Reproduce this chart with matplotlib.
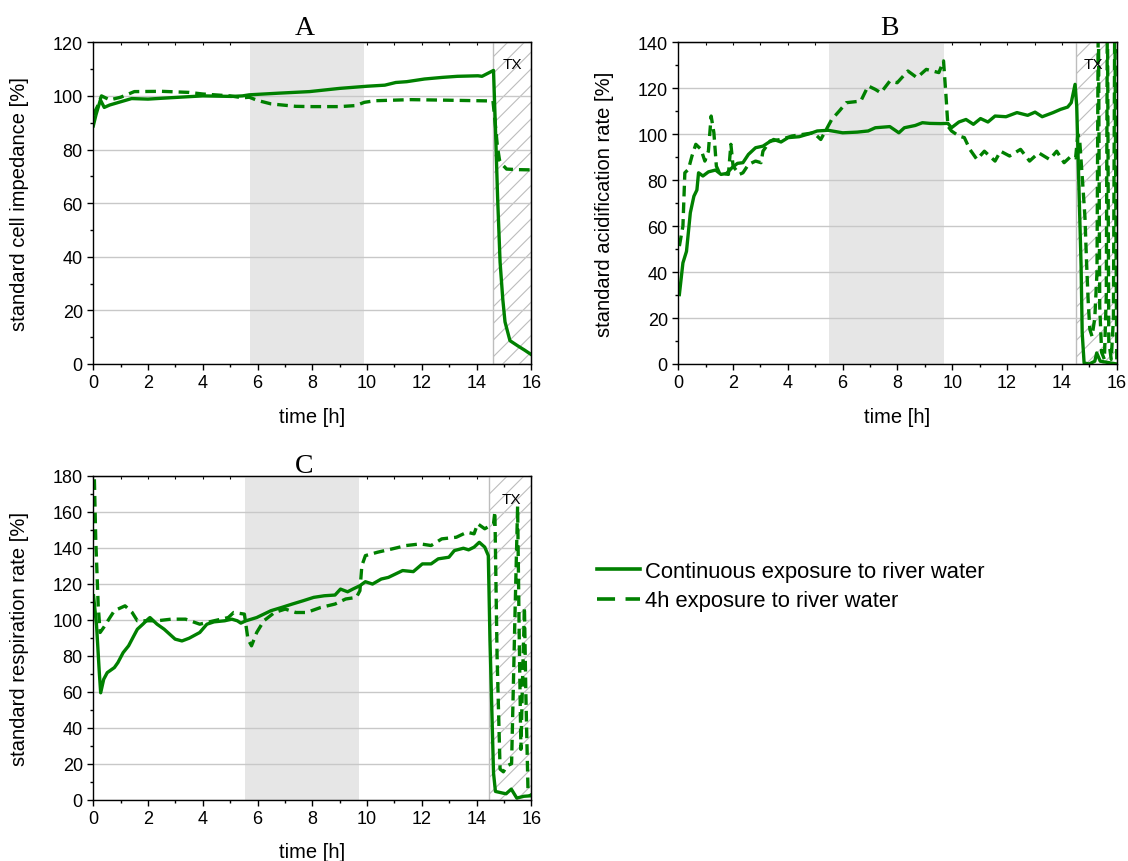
import matplotlib
matplotlib.use("Agg")
import matplotlib.pyplot as plt
from matplotlib.ticker import MultipleLocator, NullFormatter
from matplotlib.lines import Line2D

plt.rcParams['font.family'] = ['Liberation Sans', 'DejaVu Sans']
plt.rcParams['hatch.linewidth'] = 0.8

# ---------------- data ----------------
# Panel A: standard cell impedance
a_cont_t = [0.0, 0.1, 0.26, 0.4, 0.6, 1.0, 1.4, 2.0, 2.8, 4.0, 5.05, 5.45, 5.7, 6.75, 7.9, 9.0, 10.0,
            10.65, 11.05, 11.45, 12.1, 12.75, 13.3, 14.05, 14.2, 14.62, 14.7, 14.77, 14.86, 14.96, 15.04,
            15.22, 15.5, 15.75, 16.0]
a_cont_y = [88.8, 93.0, 98.5, 95.7, 96.6, 97.8, 99.0, 98.8, 99.3, 100.0, 99.8, 100.0, 100.4, 101.0, 101.6,
            102.8, 103.6, 104.0, 105.0, 105.3, 106.3, 106.9, 107.3, 107.5, 107.3, 109.5, 85.0, 62.0, 38.0,
            24.0, 15.7, 8.7, 6.8, 5.2, 3.5]
a_4h_t = [0.0, 0.15, 0.3, 0.6, 1.0, 1.5, 2.5, 3.5, 4.0, 5.0, 5.45, 5.7, 6.0, 6.5, 7.4, 8.0, 9.0, 9.6, 9.9,
          10.3, 11.6, 12.9, 14.6, 14.68, 14.76, 14.84, 14.92, 15.1, 15.5, 16.0]
a_4h_y = [93.0, 96.0, 100.0, 98.5, 99.5, 101.6, 101.7, 101.3, 100.7, 100.0, 99.3, 99.5, 98.3, 97.0, 96.1,
          96.0, 96.0, 96.4, 97.6, 98.2, 98.6, 98.4, 98.1, 90.0, 81.4, 76.0, 74.6, 72.7, 72.5, 72.4]

# Panel B: standard acidification rate
b_cont_t = [0.04, 0.17, 0.3, 0.44, 0.57, 0.68, 0.74, 0.9, 1.1, 1.36, 1.56, 1.76, 1.96, 2.16, 2.36, 2.56,
            2.82, 3.09, 3.28, 3.48, 3.75, 4.01, 4.41, 4.81, 5.07, 5.47, 6.0, 6.53, 6.93, 7.19, 7.72, 8.05,
            8.25, 8.65, 8.91, 9.18, 9.58, 9.84, 9.97, 10.24, 10.5, 10.77, 11.03, 11.3, 11.56, 11.96, 12.36,
            12.75, 13.02, 13.28, 13.68, 13.95, 14.21, 14.34, 14.48, 14.54, 14.6, 14.7, 14.74, 14.81, 15.0,
            15.2, 15.27, 15.4, 16.0]
b_cont_y = [30.2, 44.0, 49.0, 65.8, 73.0, 75.7, 83.2, 81.8, 83.6, 84.4, 82.5, 82.9, 85.4, 87.3, 87.6, 91.2,
            94.1, 94.8, 96.3, 97.7, 96.6, 98.5, 98.9, 100.3, 101.4, 101.7, 100.6, 100.9, 101.4, 102.8, 103.3,
            100.6, 102.8, 103.8, 105.0, 104.7, 104.6, 104.7, 102.8, 105.3, 106.4, 104.3, 106.8, 105.3, 107.9,
            107.6, 109.4, 108.2, 109.6, 107.6, 109.4, 110.8, 111.8, 113.7, 121.7, 112.3, 86.1, 42.6, 13.5,
            0.4, 0.0, 1.2, 4.8, 1.2, 0.0]
b_4h_t = [0.04, 0.17, 0.24, 0.37, 0.5, 0.64, 0.83, 0.97, 1.1, 1.2, 1.3, 1.39, 1.5, 1.83, 1.92, 2.0, 2.23,
          2.36, 2.56, 2.82, 3.02, 3.09, 3.35, 3.75, 4.15, 4.54, 4.94, 5.2, 5.4, 5.6, 5.87, 6.13, 6.66, 6.93,
          7.19, 7.39, 7.72, 7.99, 8.38, 8.71, 9.05, 9.51, 9.68, 9.77, 9.84, 9.97, 10.24, 10.44, 10.64, 10.9,
          11.17, 11.56, 11.76, 12.09, 12.49, 12.82, 13.15, 13.55, 13.81, 14.08, 14.34, 14.5, 14.58, 14.65,
          14.75, 14.84, 14.9, 14.96, 15.02, 15.1, 15.2, 15.28, 15.33, 15.38, 15.45, 15.55, 15.62, 15.66,
          15.71, 15.8, 15.88, 15.93, 15.97, 16.0]
b_4h_y = [51.3, 60.0, 83.2, 84.7, 90.5, 95.6, 93.4, 88.3, 92.6, 107.9, 100.6, 86.1, 83.2, 82.5, 95.6, 86.1,
          82.5, 83.2, 86.8, 88.3, 87.6, 92.6, 97.0, 97.7, 99.2, 99.9, 100.6, 97.7, 102.0, 106.4, 110.0, 113.7,
          114.4, 121.0, 119.5, 118.0, 123.1, 122.4, 127.5, 124.6, 128.2, 126.8, 131.9, 116.6, 103.5, 101.4,
          99.2, 98.5, 93.4, 89.0, 92.6, 88.3, 92.6, 90.5, 93.4, 88.3, 91.9, 89.0, 92.6, 87.6, 90.5, 89.7,
          100.0, 97.0, 80.0, 64.0, 44.0, 27.0, 15.0, 12.0, 20.0, 40.0, 160.0, 25.0, 5.0, 2.0, 30.0, 160.0,
          10.0, 2.0, 20.0, 160.0, 60.0, 2.0]

# Panel C: standard respiration rate
c_cont_t = [0.01, 0.12, 0.22, 0.27, 0.38, 0.51, 0.77, 0.9, 1.09, 1.29, 1.48, 1.61, 1.81, 2.0, 2.07, 2.33,
            2.59, 2.99, 3.24, 3.5, 3.89, 4.15, 4.41, 4.8, 5.06, 5.26, 5.39, 5.58, 5.97, 6.23, 6.49, 6.88,
            7.27, 7.66, 8.05, 8.44, 8.83, 9.03, 9.29, 9.48, 9.74, 9.94, 10.2, 10.52, 10.78, 11.04, 11.3,
            11.69, 12.02, 12.34, 12.6, 12.99, 13.19, 13.52, 13.71, 13.91, 14.1, 14.3, 14.43, 14.49, 14.62,
            14.69, 14.95, 15.08, 15.27, 15.47, 15.73, 16.0]
c_cont_y = [113.3, 96.6, 70.6, 59.4, 66.9, 70.6, 73.4, 76.2, 81.7, 85.5, 91.0, 94.7, 97.5, 100.3, 101.2,
            97.5, 94.7, 89.2, 88.2, 89.7, 92.9, 97.5, 98.8, 99.4, 100.3, 99.4, 98.1, 99.4, 101.2, 103.1,
            105.0, 106.8, 108.7, 110.5, 112.4, 113.3, 113.7, 117.0, 115.5, 117.0, 118.9, 121.1, 119.8, 122.6,
            123.5, 125.4, 127.3, 126.7, 131.0, 131.0, 133.8, 134.7, 138.4, 139.7, 138.8, 140.3, 143.0, 140.3,
            135.6, 89.2, 14.9, 4.6, 3.7, 3.3, 5.9, 0.9, 1.9, 2.2]
c_4h_t = [0.04, 0.09, 0.18, 0.25, 0.38, 0.57, 0.77, 1.16, 1.42, 1.61, 1.81, 2.33, 2.85, 3.37, 3.89, 4.41,
          4.93, 5.13, 5.52, 5.65, 5.78, 5.97, 6.23, 6.62, 7.01, 7.4, 7.79, 8.31, 8.83, 9.22, 9.61, 9.74,
          9.81, 9.94, 10.39, 10.91, 11.43, 11.95, 12.34, 12.73, 13.26, 13.65, 13.91, 14.04, 14.3, 14.62,
          14.67, 14.75, 14.86, 14.98, 15.12, 15.28, 15.4, 15.5, 15.56, 15.62, 15.67, 15.75, 15.8, 15.88, 16.0]
c_4h_y = [178.0, 144.5, 107.7, 92.9, 95.7, 100.3, 105.0, 107.7, 104.0, 99.4, 99.4, 99.4, 100.3, 100.3, 97.5,
          99.4, 101.2, 104.0, 103.1, 89.2, 85.5, 92.9, 99.4, 104.0, 105.9, 104.0, 104.0, 106.8, 108.7, 111.5,
          112.4, 116.1, 130.0, 135.6, 137.5, 139.3, 141.2, 142.1, 141.2, 144.9, 145.8, 148.6, 147.7, 153.3,
          150.5, 153.3, 160.0, 80.0, 17.0, 15.5, 18.9, 20.0, 100.0, 163.0, 90.0, 28.0, 60.0, 107.0, 60.0,
          5.0, 2.0]

# exposure periods (grey) and Triton X (hatched) periods, in hours
exposure_spans = [(5.72, 9.90), (5.51, 9.70), (5.54, 9.71)]
tx_start = [14.61, 14.51, 14.46]

panel_titles = ['A', 'B', 'C']
y_labels = ['standard cell impedance [%]', 'standard acidification rate [%]',
            'standard respiration rate [%]']
y_max = [120, 140, 180]
tx_label_pos = [(15.3, 112), (15.16, 130.6), (15.26, 167)]
legend_labels = ['Continuous exposure to river water', '4h exposure to river water']

# ---------------- figure ----------------
GREEN = '#008000'
fig = plt.figure(figsize=(11.28, 8.62), dpi=100)
positions = [
    [0.0827, 0.5766, 0.3883, 0.3732],
    [0.6013, 0.5766, 0.3887, 0.3732],
    [0.0827, 0.0711, 0.3883, 0.3759],
]
title_pads = [6.0, 6.0, 2.5]
series = [
    (a_cont_t, a_cont_y, a_4h_t, a_4h_y),
    (b_cont_t, b_cont_y, b_4h_t, b_4h_y),
    (c_cont_t, c_cont_y, c_4h_t, c_4h_y),
]

for i in range(3):
    ax = fig.add_axes(positions[i])
    ct, cy, dt, dy = series[i]
    ax.axvspan(exposure_spans[i][0], exposure_spans[i][1], facecolor='#e6e6e6', edgecolor='none', zorder=0.2)
    ax.axvspan(tx_start[i], 16, facecolor='white', edgecolor='#bdbdbd', hatch='//', linewidth=1.0, zorder=0.3)
    ax.plot(ct, cy, color=GREEN, lw=2.4, solid_joinstyle='round', zorder=3)
    ax.plot(dt, dy, color=GREEN, lw=2.4, linestyle=(0, (3.2, 1.8)), zorder=3)

    ax.set_xlim(0, 16)
    ax.set_ylim(0, y_max[i])
    ax.xaxis.set_major_locator(MultipleLocator(2))
    ax.xaxis.set_minor_locator(MultipleLocator(1))
    ax.yaxis.set_major_locator(MultipleLocator(20))
    ax.yaxis.set_minor_locator(MultipleLocator(10))
    ax.set_axisbelow(True)
    ax.yaxis.grid(True, which='major', color='#c8c8c8', lw=1.0, zorder=0.5)
    ax.tick_params(which='both', direction='out', labelsize=13, width=1.0, pad=3.5, colors='black')
    ax.tick_params(which='major', length=4)
    ax.tick_params(which='minor', length=2.5)
    for sp in ax.spines.values():
        sp.set_linewidth(1.0)
        sp.set_zorder(5)

    top = ax.secondary_xaxis('top')
    top.xaxis.set_major_locator(MultipleLocator(1))
    top.xaxis.set_major_formatter(NullFormatter())
    top.tick_params(direction='in', length=2.5, width=0.8)
    right = ax.secondary_yaxis('right')
    right.yaxis.set_major_locator(MultipleLocator(10))
    right.yaxis.set_major_formatter(NullFormatter())
    right.tick_params(direction='in', length=2.5, width=0.8)

    ax.set_xlabel('time [h]', fontsize=14.5, labelpad=11)
    ax.set_ylabel(y_labels[i], fontsize=14.5, labelpad=17)
    ax.annotate(panel_titles[i], xy=(0.482, 1.0), xycoords='axes fraction',
                xytext=(0, title_pads[i]), textcoords='offset points',
                ha='center', va='baseline', fontsize=20, family=['Liberation Serif', 'DejaVu Serif'])
    ax.text(tx_label_pos[i][0], tx_label_pos[i][1], 'TX', ha='center', va='center', fontsize=11, zorder=6)

handles = [Line2D([], [], color=GREEN, lw=2.6),
           Line2D([], [], color=GREEN, lw=2.6, linestyle=(0, (5.0, 2.9)))]
fig.legend(handles, legend_labels, loc='center left', bbox_to_anchor=(0.529, 0.319),
           frameon=False, fontsize=15.8, handlelength=1.96, handletextpad=0.23,
           labelspacing=0.39, borderpad=0, borderaxespad=0)

fig.savefig('out.png', dpi=100)
